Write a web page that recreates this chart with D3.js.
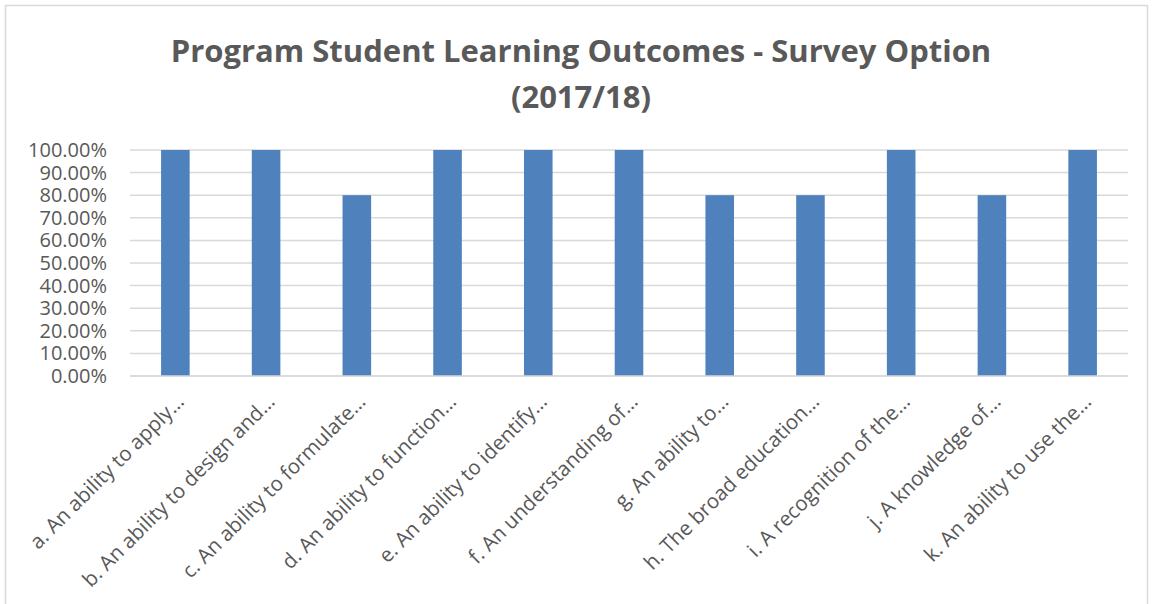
<!DOCTYPE html>
<html>
<head>
<meta charset="utf-8">
<script src="https://cdn.jsdelivr.net/npm/d3@7"></script>
<style>
  body { margin: 0; background: #fff; }
  text { font-family: "Open Sans", sans-serif; fill: #595959; }
</style>
</head>
<body>
<div id="chart"></div>
<script>
// data
var categories = [
  "a. An ability to apply…",
  "b. An ability to design and…",
  "c. An ability to formulate…",
  "d. An ability to function…",
  "e. An ability to identify…",
  "f. An understanding of…",
  "g. An ability to…",
  "h. The broad education…",
  "i. A recognition of the…",
  "j. A knowledge of…",
  "k. An ability to use the…"
];
var values = [1.0, 1.0, 0.8, 1.0, 1.0, 1.0, 0.8, 0.8, 1.0, 0.8, 1.0];
var yTicks = [0, 0.1, 0.2, 0.3, 0.4, 0.5, 0.6, 0.7, 0.8, 0.9, 1.0];
var titleLines = ["Program Student Learning Outcomes - Survey Option", "(2017/18)"];

var W = 1153, H = 604;
var margin = {top: 150, right: 25, bottom: 228, left: 130},
    width = W - margin.left - margin.right,
    height = H - margin.top - margin.bottom;

var svg = d3.select("#chart")
  .append("svg")
    .attr("width", W)
    .attr("height", H);

// chart border
svg.append("rect")
    .attr("x", 5.5).attr("y", 5.5)
    .attr("width", 1142).attr("height", 640)
    .attr("fill", "none")
    .attr("stroke", "#d9d9d9")
    .attr("stroke-width", 1.5);

// title
svg.selectAll(".title")
  .data(titleLines)
  .enter().append("text")
    .attr("class", "title")
    .attr("x", 581)
    .attr("y", function(d, i) { return 62 + i * 46; })
    .attr("text-anchor", "middle")
    .attr("font-size", "31px")
    .attr("font-weight", "bold")
    .text(function(d) { return d; });

var g = svg.append("g")
    .attr("transform", "translate(" + margin.left + "," + margin.top + ")");

var x = d3.scaleBand()
    .domain(categories)
    .range([0, width])
    .paddingInner(0.685)
    .paddingOuter(0.3425);

var y = d3.scaleLinear()
    .domain([0, 1])
    .range([height, 0]);

// gridlines
g.selectAll(".grid")
  .data(yTicks)
  .enter().append("line")
    .attr("class", "grid")
    .attr("x1", 0).attr("x2", width)
    .attr("y1", function(d) { return y(d); })
    .attr("y2", function(d) { return y(d); })
    .attr("stroke", "#d9d9d9")
    .attr("stroke-width", 1.5);

// y axis labels
var yAxis = g.append("g")
    .call(d3.axisLeft(y).tickValues(yTicks).tickSize(0).tickPadding(23)
      .tickFormat(function(d) { return (d * 100).toFixed(2) + "%"; }));
yAxis.select(".domain").remove();
yAxis.selectAll("text")
    .attr("font-family", "Open Sans, sans-serif")
    .attr("font-size", "20px")
    .attr("fill", "#595959");

// bars
g.selectAll(".bar")
  .data(values)
  .enter().append("rect")
    .attr("class", "bar")
    .attr("x", function(d, i) { return x(categories[i]); })
    .attr("y", function(d) { return y(d); })
    .attr("width", x.bandwidth())
    .attr("height", function(d) { return height - y(d); })
    .attr("fill", "#4f81bd");

// x axis line (drawn over bars)
g.append("line")
    .attr("x1", 0).attr("x2", width)
    .attr("y1", height).attr("y2", height)
    .attr("stroke", "#d9d9d9")
    .attr("stroke-width", 1.5);

// rotated category labels
g.selectAll(".xlab")
  .data(categories)
  .enter().append("text")
    .attr("class", "xlab")
    .attr("text-anchor", "end")
    .attr("font-size", "20.5px")
    .attr("transform", function(d) {
      var cx = x(d) + x.bandwidth() / 2 + 10;
      return "translate(" + cx + "," + (height + 27) + ") rotate(-45)";
    })
    .text(function(d) { return d; });
</script>
</body>
</html>
